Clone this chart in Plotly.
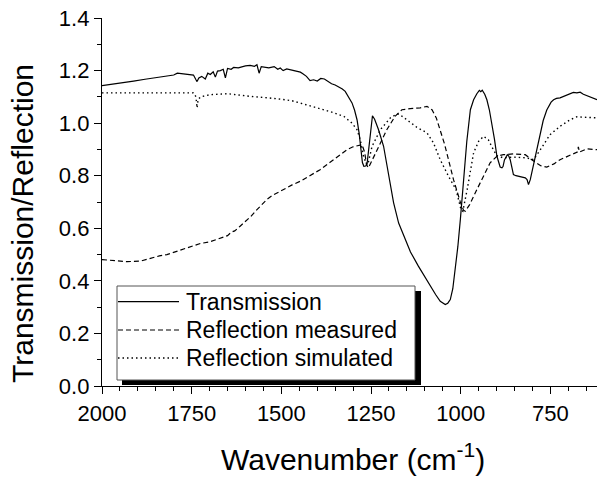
import plotly.graph_objects as go

# ---- spectra: wavenumber (cm^-1) and normalised signal ----
trans_wn = [2000, 1970, 1940, 1912, 1880, 1850, 1819, 1800, 1790, 1777, 1760, 1745, 1738, 1735,
            1730, 1722, 1712, 1705, 1698, 1690, 1684, 1678, 1670, 1662, 1656, 1650, 1640, 1633,
            1620, 1610, 1600, 1587, 1575, 1568, 1562, 1556, 1545, 1535, 1520, 1510, 1503, 1495,
            1485, 1475, 1465, 1455, 1447, 1440, 1430, 1420, 1410, 1400, 1390, 1380, 1370, 1360,
            1350, 1340, 1330, 1322, 1312, 1303, 1296, 1289, 1283, 1278, 1274, 1270, 1265, 1261,
            1255, 1250, 1246, 1240, 1229, 1215, 1201, 1187, 1173, 1159, 1140, 1118, 1100, 1085,
            1070, 1057, 1048, 1043, 1036, 1029, 1022, 1015, 1008, 1001, 992, 983, 973, 964, 955,
            948, 944, 940, 933, 927, 920, 913, 906, 899, 894, 890, 885, 882, 878, 874, 870, 866,
            862, 857, 853, 846, 839, 830, 820, 815, 811, 806, 802, 795, 783, 770, 760, 755, 748,
            741, 733, 723, 715, 705, 696, 686, 676, 667, 658, 648, 638, 630, 620]
trans_val = [1.143, 1.148, 1.155, 1.160, 1.167, 1.172, 1.180, 1.183, 1.190, 1.188, 1.185, 1.183, 1.165, 1.158,
             1.172, 1.178, 1.168, 1.190, 1.185, 1.195, 1.175, 1.198, 1.200, 1.205, 1.172, 1.208, 1.205, 1.212,
             1.210, 1.215, 1.218, 1.220, 1.216, 1.222, 1.190, 1.215, 1.212, 1.210, 1.215, 1.205, 1.210, 1.200,
             1.206, 1.203, 1.198, 1.196, 1.194, 1.188, 1.178, 1.162, 1.165, 1.160, 1.170, 1.168, 1.158, 1.150,
             1.145, 1.138, 1.130, 1.121, 1.100, 1.077, 1.050, 1.013, 0.960, 0.890, 0.850, 0.836, 0.837, 0.845,
             0.930, 1.000, 1.028, 1.015, 0.975, 0.912, 0.810, 0.697, 0.620, 0.570, 0.510, 0.456, 0.415, 0.380,
             0.348, 0.322, 0.312, 0.310, 0.315, 0.329, 0.370, 0.443, 0.530, 0.633, 0.785, 0.930, 1.051, 1.089, 1.112,
             1.125, 1.120, 1.125, 1.110, 1.089, 1.050, 1.000, 0.940, 0.874, 0.845, 0.833, 0.830, 0.835, 0.860, 0.872, 0.880, 0.875,
             0.861, 0.830, 0.804, 0.800, 0.798, 0.793, 0.792, 0.785, 0.766, 0.785, 0.810, 0.860, 0.937, 1.010, 1.050, 1.064, 1.080,
             1.089, 1.094, 1.096, 1.100, 1.105, 1.112, 1.117, 1.115, 1.118, 1.110, 1.105, 1.098, 1.095, 1.089]

meas_wn = [2000, 1960, 1930, 1893, 1865, 1840, 1819, 1791, 1760, 1740, 1726, 1700, 1680, 1670,
           1650, 1640, 1630, 1615, 1600, 1585, 1568, 1555, 1540, 1525, 1512, 1490, 1470, 1447,
           1420, 1392, 1365, 1341, 1317, 1300, 1289, 1275, 1268, 1262, 1257, 1250, 1234, 1206,
           1183, 1164, 1141, 1125, 1113, 1094, 1080, 1068, 1057, 1045, 1034, 1020, 1001, 992,
           987, 975, 955, 935, 918, 899, 881, 853, 820, 802, 777, 760, 740, 723, 700, 686, 675,
           672, 669, 648, 630, 620]
meas_val = [0.481, 0.475, 0.473, 0.475, 0.487, 0.495, 0.500, 0.513, 0.525, 0.535, 0.542, 0.548, 0.558, 0.563,
            0.572, 0.585, 0.590, 0.608, 0.625, 0.645, 0.671, 0.690, 0.710, 0.725, 0.735, 0.752, 0.765, 0.779,
            0.800, 0.823, 0.850, 0.875, 0.899, 0.910, 0.914, 0.918, 0.890, 0.840, 0.830, 0.850, 0.899, 0.975,
            1.026, 1.051, 1.055, 1.056, 1.058, 1.064, 1.051, 1.020, 0.975, 0.920, 0.861, 0.785, 0.700, 0.668,
            0.665, 0.690, 0.747, 0.800, 0.849, 0.874, 0.880, 0.883, 0.880, 0.861, 0.838, 0.833, 0.845, 0.861, 0.875, 0.883, 0.890,
            0.910, 0.890, 0.902, 0.900, 0.899]

sim_wn = [2000, 1900, 1800, 1745, 1738, 1735, 1732, 1725, 1700, 1650, 1587, 1512, 1470, 1430,
          1400, 1355, 1325, 1303, 1289, 1280, 1271, 1263, 1259, 1247, 1224, 1196, 1178, 1170,
          1150, 1122, 1094, 1076, 1057, 1034, 1013, 999, 994, 982, 964, 950, 936, 923, 909, 899,
          881, 853, 816, 797, 778, 751, 723, 695, 676, 650, 620]
sim_val = [1.115, 1.116, 1.116, 1.115, 1.100, 1.058, 1.090, 1.100, 1.108, 1.112, 1.102, 1.093, 1.085, 1.068,
           1.058, 1.040, 1.025, 1.000, 0.975, 0.937, 0.874, 0.845, 0.842, 0.912, 0.975, 1.020, 1.035, 1.033,
           1.013, 0.984, 0.963, 0.925, 0.861, 0.798, 0.747, 0.671, 0.665, 0.747, 0.887, 0.931, 0.950, 0.937, 0.899, 0.876,
           0.868, 0.871, 0.868, 0.861, 0.899, 0.956, 0.988, 1.013, 1.024, 1.022, 1.020]

series_names = ["Transmission", "Reflection measured", "Reflection simulated"]
x_ticks = [2000, 1750, 1500, 1250, 1000, 750]
y_ticks = [0.0, 0.2, 0.4, 0.6, 0.8, 1.0, 1.2, 1.4]

FONT = "Liberation Sans, Arial, sans-serif"
W, H = 597, 477
ML, MR, MT, MB = 102, 0, 18, 91
PW, PH = W - ML - MR, H - MT - MB

def fx(xp):
    """pixel column -> paper x"""
    return (xp - ML) / PW

def fy(yp):
    """pixel row -> paper y"""
    return (H - MB - yp) / PH

dashes = ["solid", "5px,3px", "1.5px,3px"]
widths = [1.2, 1.2, 1.4]

fig = go.Figure()
for wn, val, name, dash, w in zip([trans_wn, meas_wn, sim_wn], [trans_val, meas_val, sim_val],
                                  series_names, dashes, widths):
    fig.add_trace(go.Scatter(x=wn, y=val, mode="lines", name=name,
                             line=dict(color="black", width=w, dash=dash), showlegend=False))

axis_common = dict(showline=True, linecolor="black", linewidth=1.3, ticks="outside", ticklen=7,
                   tickwidth=1.3, tickcolor="black", showgrid=False, zeroline=False,
                   tickfont=dict(family=FONT, size=22, color="black"))

fig.update_xaxes(range=[2000, 620], tickvals=x_ticks, ticktext=[str(v) for v in x_ticks],
                 minor=dict(ticks="outside", ticklen=4, tickwidth=1.1, tickcolor="black", dtick=50, tick0=0),
                 **axis_common)
fig.update_yaxes(range=[0, 1.4], tickvals=y_ticks, ticktext=[f"{v:.1f}" for v in y_ticks],
                 minor=dict(ticks="outside", ticklen=4, tickwidth=1.1, tickcolor="black", dtick=0.1, tick0=0),
                 **axis_common)

shapes = []
annotations = []

# framed legend with a solid drop shadow
shapes.append(dict(type="rect", xref="paper", yref="paper", x0=fx(122), x1=fx(421), y0=fy(385), y1=fy(291),
                   fillcolor="black", line=dict(width=0), layer="above"))
shapes.append(dict(type="rect", xref="paper", yref="paper", x0=fx(117), x1=fx(415), y0=fy(380), y1=fy(286),
                   fillcolor="white", line=dict(color="#555555", width=1), layer="above"))
rows = [301.7, 330, 358]
for name, dash, w, r in zip(series_names, dashes, widths, rows):
    shapes.append(dict(type="line", xref="paper", yref="paper", x0=fx(118), x1=fx(179), y0=fy(r), y1=fy(r),
                       line=dict(color="black", width=w, dash=dash), layer="above"))
    annotations.append(dict(text=name, xref="paper", yref="paper", x=fx(184), y=fy(r), xanchor="left",
                            yanchor="middle", showarrow=False,
                            font=dict(family=FONT, size=23, color="black")))

# axis titles
annotations.append(dict(text="Wavenumber (cm<sup>-1</sup>)", xref="paper", yref="paper", x=fx(353), y=fy(457),
                        xanchor="center", yanchor="middle", showarrow=False,
                        font=dict(family=FONT, size=30, color="black")))
annotations.append(dict(text="Transmission/Reflection", xref="paper", yref="paper", x=fx(23), y=fy(224),
                        xanchor="center", yanchor="middle", textangle=-90, showarrow=False,
                        font=dict(family=FONT, size=30, color="black")))

fig.update_layout(width=W, height=H, margin=dict(l=ML, r=MR, t=MT, b=MB),
                  paper_bgcolor="white", plot_bgcolor="white",
                  shapes=shapes, annotations=annotations, showlegend=False)

fig.write_html("out.html")
